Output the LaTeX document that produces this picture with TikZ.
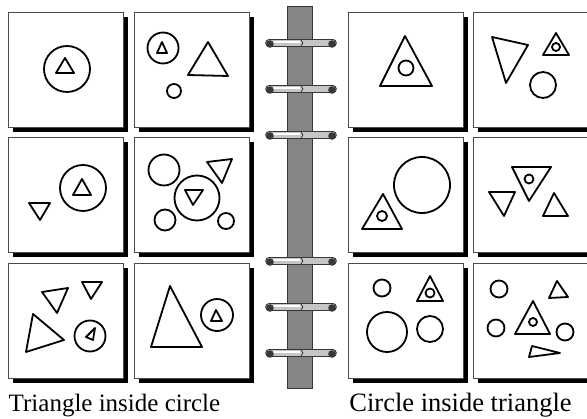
\documentclass[tikz,border=0pt]{standalone}
\usepackage{fontspec}
\setmainfont{Liberation Serif}
\usetikzlibrary{positioning}
\definecolor{spinegray}{HTML}{858585}
\definecolor{ringgray}{HTML}{C6C6C6}
\definecolor{ringdark}{HTML}{383838}
\tikzset{
	panelbox/.style={
			draw=black!70,
			line width=0.8pt,
			fill=white,
			minimum size=115pt,
			inner sep=0pt,
			anchor=north west
		},
	panelshadow/.style={
			fill=black,
			draw=none
		},
	figline/.style={
			draw=black,
			line width=1.8pt,
			line join=round
		},
	spinebar/.style={
			draw=ringdark,
			line width=0.8pt,
			fill=spinegray
		},
	ringedge/.style={
			draw=ringdark,
			line width=7.6pt,
			line cap=round
		},
	ringbody/.style={
			draw=ringgray,
			line width=5.2pt,
			line cap=round
		},
	ringshine/.style={
			draw=white,
			line width=1.4pt
		},
	caption/.style={
			anchor=base,
			inner sep=0pt,
			font=\fontsize{25}{30}\selectfont
		}
}

\begin{document}
\begin{tikzpicture}[x=1pt, y=-1pt]
	\useasboundingbox (0,0) rectangle (587,419);
	\clip (0,0) rectangle (587,419);
	\fill[white] (0,0) rectangle (587,419);

	% the cards, with their shadows
	\foreach \cx [count=\ci] in {8,134,348,473} {
		\foreach \cy [count=\cj] in {12,137,263} {
			\fill[panelshadow] (\cx+5,\cy+5) rectangle (\cx+120,\cy+120);
			\node[panelbox] (card-\ci-\cj) at (\cx,\cy) {};
		}
	}

	% spine and rings
	\draw[spinebar] (287,6) rectangle (312,388);
	\foreach \ry in {43,89,135,261,307,353} {
		\draw[ringedge] (269,\ry) -- (333,\ry);
		\draw[ringbody] (269,\ry) -- (333,\ry);
		\draw[ringshine] (271,\ry-1) -- (300,\ry-1);
		\draw[ringdark, line width=0.8pt] (301,\ry-3) -- (303,\ry) -- (301,\ry+3);
		\fill[ringdark] (270,\ry+1) circle[radius=3.8];
		\fill[ringdark] (332,\ry+1) circle[radius=3.8];
	}

	% left side: triangle inside circle
	\draw[figline] (67,69) circle[radius=23];
	\draw[figline] (65,58) -- (56,73) -- (74,73) -- cycle;

	\draw[figline] (163,48) circle[radius=15.5];
	\draw[figline] (162,42) -- (157,53) -- (167,53) -- cycle;
	\draw[figline] (208,42) -- (188,75) -- (228,76) -- cycle;
	\draw[figline] (174,91) circle[radius=7];

	\draw[figline] (83,188) circle[radius=23];
	\draw[figline] (82,179) -- (73,195) -- (91,195) -- cycle;
	\draw[figline] (29,203) -- (50,203) -- (40,220) -- cycle;

	\draw[figline] (164,170) circle[radius=15.5];
	\draw[figline] (207,162) -- (232,159) -- (222,183) -- cycle;
	\draw[figline] (197,198) circle[radius=22.5];
	\draw[figline] (185,190) -- (203,190) -- (193,205) -- cycle;
	\draw[figline] (165,220) circle[radius=10.5];
	\draw[figline] (226,221) circle[radius=8];

	\draw[figline] (42,292) -- (68,288) -- (57,313) -- cycle;
	\draw[figline] (82,282) -- (102,282) -- (91,299) -- cycle;
	\draw[figline] (33,314) -- (64,340) -- (26,352) -- cycle;
	\draw[figline] (90,336) circle[radius=15.5];
	\draw[figline] (95,328) -- (86,337) -- (93,340) -- cycle;

	\draw[figline] (170,286) -- (151,347) -- (202,347) -- cycle;
	\draw[figline] (217,315) circle[radius=16];
	\draw[figline] (216,310) -- (211,321) -- (222,321) -- cycle;

	% right side: circle inside triangle
	\draw[figline] (405,36) -- (380,86) -- (432,86) -- cycle;
	\draw[figline] (406,68) circle[radius=7.5];

	\draw[figline] (492,37) -- (528,45) -- (506,83) -- cycle;
	\draw[figline] (556,33) -- (543,55) -- (569,55) -- cycle;
	\draw[figline] (556,47) circle[radius=4];
	\draw[figline] (543,85) circle[radius=13];

	\draw[figline] (422,185) circle[radius=28];
	\draw[figline] (383,194) -- (362,229) -- (402,229) -- cycle;
	\draw[figline] (382,216) circle[radius=5];

	\draw[figline] (512,167) -- (551,167) -- (529,201) -- cycle;
	\draw[figline] (529,179) circle[radius=4.5];
	\draw[figline] (489,192) -- (515,192) -- (504,216) -- cycle;
	\draw[figline] (554,193) -- (543,216) -- (568,216) -- cycle;

	\draw[figline] (382,288) circle[radius=8.5];
	\draw[figline] (430,276) -- (417,301) -- (443,301) -- cycle;
	\draw[figline] (430,293) circle[radius=4.5];
	\draw[figline] (387,332) circle[radius=20];
	\draw[figline] (430,329) circle[radius=13];

	\draw[figline] (499,289) circle[radius=8.5];
	\draw[figline] (557,281) -- (549,298) -- (568,297) -- cycle;
	\draw[figline] (496,328) circle[radius=8.5];
	\draw[figline] (533,301) -- (515,334) -- (550,334) -- cycle;
	\draw[figline] (533,322) circle[radius=4];
	\draw[figline] (565,332) circle[radius=8.5];
	\draw[figline] (532,346) -- (529,357) -- (560,353) -- cycle;

	\node[caption] (leftcap) at (114.5,412) {Triangle inside circle};
	\node[caption, font=\fontsize{26.5}{30}\selectfont] (rightcap) at (460.5,412) {Circle inside triangle};
\end{tikzpicture}
\end{document}
